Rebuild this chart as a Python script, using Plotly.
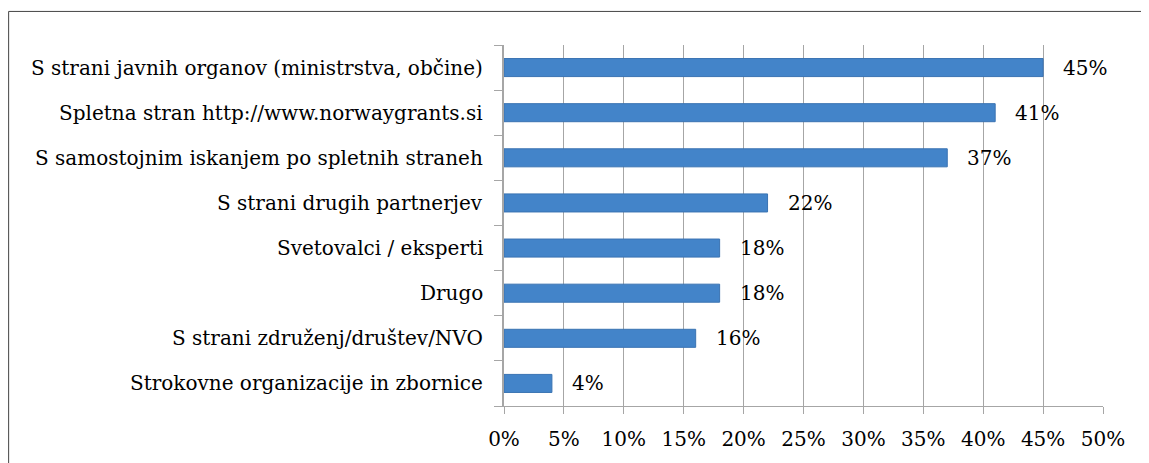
import plotly.graph_objects as go

categories = [
    "S strani javnih organov (ministrstva, občine)",
    "Spletna stran http://www.norwaygrants.si",
    "S samostojnim iskanjem po spletnih straneh",
    "S strani drugih partnerjev",
    "Svetovalci / eksperti",
    "Drugo",
    "S strani združenj/društev/NVO",
    "Strokovne organizacije in zbornice",
]
values = [0.45, 0.41, 0.37, 0.22, 0.18, 0.18, 0.16, 0.04]
labels = ["45%", "41%", "37%", "22%", "18%", "18%", "16%", "4%"]
tick_vals = [0, 0.05, 0.10, 0.15, 0.20, 0.25, 0.30, 0.35, 0.40, 0.45, 0.50]
tick_text = ["0%", "5%", "10%", "15%", "20%", "25%", "30%", "35%", "40%", "45%", "50%"]

FONT = "DejaVu Serif"
FS = 20
fig = go.Figure()
fig.add_trace(go.Bar(
    x=values, y=categories, orientation="h", width=0.4,
    marker=dict(color="#4384c9", line=dict(color="#3a73b2", width=1)),
    hoverinfo="skip",
))
for v, c, t in zip(values, categories, labels):
    fig.add_annotation(x=v, y=c, text=t, showarrow=False, xanchor="left",
                       xshift=18, font=dict(family=FONT, size=FS, color="#000"))

# outer chart frame (top and left edges; others fall outside the view)
fig.add_shape(type="line", xref="paper", yref="paper",
              x0=-0.827, x1=1.3, y0=1.093, y1=1.093,
              line=dict(color="#444444", width=1))
fig.add_shape(type="line", xref="paper", yref="paper",
              x0=-0.827, x1=-0.827, y0=-0.3, y1=1.093,
              line=dict(color="#444444", width=1))

fig.update_layout(
    width=1141, height=455,
    margin=dict(l=496, r=46, t=37, b=46),
    paper_bgcolor="white", plot_bgcolor="white",
    showlegend=False,
    font=dict(family=FONT, size=FS, color="#000"),
    xaxis=dict(range=[0, 0.5], tickvals=tick_vals, ticktext=tick_text,
               showgrid=True, gridcolor="#a6a6a6", gridwidth=1,
               showline=True, linecolor="#a6a6a6", linewidth=1,
               ticks="outside", ticklen=7, tickcolor="#a6a6a6",
               ticklabelstandoff=8,
               zeroline=False, fixedrange=True),
    yaxis=dict(autorange="reversed", showline=True, linecolor="#a6a6a6",
               linewidth=2, ticks="outside", ticklen=8, tickcolor="#a6a6a6",
               tickmode="array", tickvals=[i - 0.5 for i in range(9)],
               ticktext=[""] * 9, showgrid=False, zeroline=False,
               fixedrange=True),
)
for c in categories:
    fig.add_annotation(x=0, y=c, xref="paper", text=c, showarrow=False,
                       xanchor="right", xshift=-19,
                       font=dict(family=FONT, size=FS, color="#000"))
fig.write_html("out.html")
